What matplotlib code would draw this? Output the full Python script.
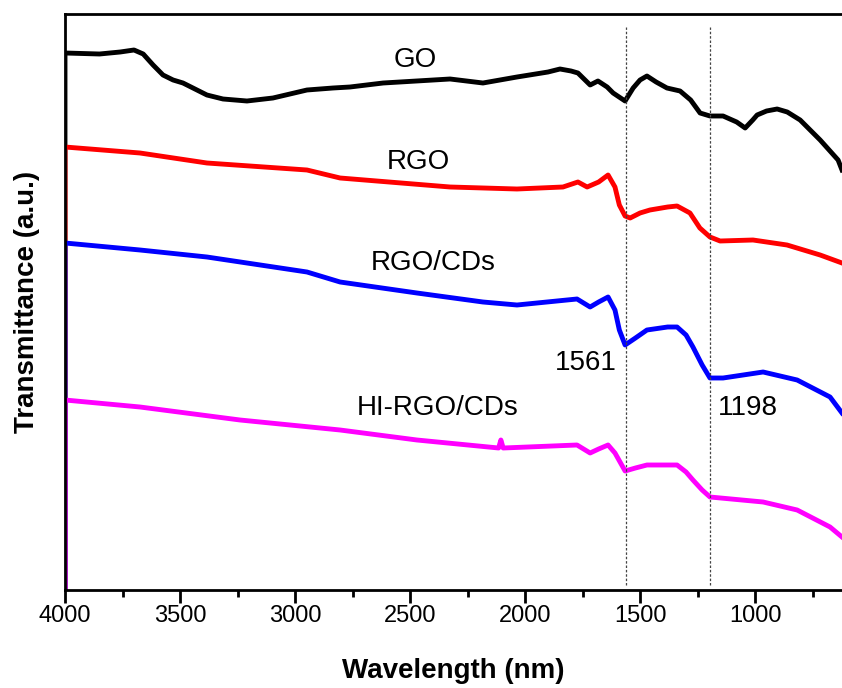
import matplotlib.pyplot as plt
from matplotlib.ticker import MultipleLocator

plt.rcParams['font.family'] = ['Liberation Sans', 'DejaVu Sans']

# spectra, wavelength axis as in the original figure, intensities in a.u.
go_x = [4000, 4000, 3850, 3760, 3700, 3660, 3617, 3574, 3530, 3487, 3383, 3313, 3209, 3096,
        2948, 2835, 2761, 2617, 2326, 2183, 2035, 1900, 1848, 1800, 1770, 1717, 1683,
        1643, 1617, 1565, 1530, 1500, 1470, 1430, 1383, 1326, 1280, 1239, 1196, 1139,
        1080, 1043, 1010, 991, 950, 904, 860, 804, 717, 639, 622]
go_y = [0, 537, 536, 538, 540, 536, 525, 515, 510, 507, 495, 491, 489, 492,
        500, 502, 503, 507, 511, 507, 513, 518, 521, 519, 517, 505, 509,
        503, 497, 489, 502, 510, 514, 508, 502, 499, 490, 477, 474, 474,
        468, 462, 470, 475, 479, 481, 478, 470, 450, 430, 420]

rgo_x = [4000, 4000, 3674, 3383, 2948, 2804, 2326, 2035, 1835, 1770, 1730, 1680, 1639,
         1609, 1590, 1565, 1543, 1500, 1457, 1380, 1339, 1283, 1240, 1196, 1152, 1009,
         861, 717, 622]
rgo_y = [0, 443, 437, 427, 420, 412, 403, 401, 403, 408, 403, 408, 415,
         403, 385, 374, 372, 377, 380, 383, 384, 377, 362, 353, 349, 350,
         345, 335, 327]

cds_x = [4000, 4000, 3674, 3383, 2948, 2804, 2470, 2183, 2035, 1774, 1717, 1680, 1639,
         1609, 1590, 1565, 1520, 1470, 1380, 1339, 1300, 1270, 1230, 1196, 1139, 965,
         817, 674, 622]
cds_y = [0, 347, 340, 333, 318, 308, 297, 288, 285, 291, 283, 288, 293,
         280, 260, 245, 252, 260, 263, 263, 255, 243, 225, 212, 212, 218,
         210, 193, 177]

hi_x = [4000, 4000, 3674, 3239, 2804, 2470, 2115, 2105, 2095, 1774, 1717, 1680, 1639,
        1609, 1565, 1520, 1470, 1339, 1300, 1270, 1230, 1196, 965, 817, 674, 622]
hi_y = [0, 190, 183, 170, 160, 150, 142, 150, 142, 145, 137, 141, 145,
        137, 119, 122, 125, 125, 118, 110, 100, 93, 88, 80, 63, 53]

series = [(go_x, go_y, 'black', 'GO', 2478, 530),
          (rgo_x, rgo_y, 'red', 'RGO', 2465, 428),
          (cds_x, cds_y, 'blue', 'RGO/CDs', 2400, 327),
          (hi_x, hi_y, '#ff00ff', 'HI-RGO/CDs', 2378, 182)]

peaks = [1561, 1198]
peak_labels = ['1561', '1198']

fig = plt.figure(figsize=(8.42, 6.88), dpi=100)
ax = fig.add_axes([65 / 842, 98 / 688, 777 / 842, 576 / 688])

for x, y, c, name, tx, ty in series:
    ax.plot(x, y, color=c, lw=3.5, solid_joinstyle='round')
    ax.text(tx, ty, name, fontsize=20, ha='center', va='center')

ax.vlines(peaks, 5, 563, colors='#444444', linestyles=(0, (2, 1.5)), lw=0.9)
ax.text(1600, 227, peak_labels[0], fontsize=20, ha='right', va='center')
ax.text(1162, 182, peak_labels[1], fontsize=20, ha='left', va='center')

ax.set_xlim(4000, 622)
ax.set_ylim(0, 576)
ax.xaxis.set_major_locator(MultipleLocator(500))
ax.xaxis.set_minor_locator(MultipleLocator(250))
ax.set_yticks([])
ax.tick_params(axis='x', which='major', length=9, width=2, labelsize=17, pad=2)
ax.tick_params(axis='x', which='minor', length=5, width=2)
for s in ['top', 'bottom', 'left']:
    ax.spines[s].set_linewidth(2)
ax.spines['right'].set_visible(False)

ax.set_xlabel('Wavelength (nm)', fontsize=20, fontweight='bold', labelpad=22)
ax.set_ylabel('Transmittance (a.u.)', fontsize=20, fontweight='bold', labelpad=18)

fig.savefig('out.png', dpi=100)
